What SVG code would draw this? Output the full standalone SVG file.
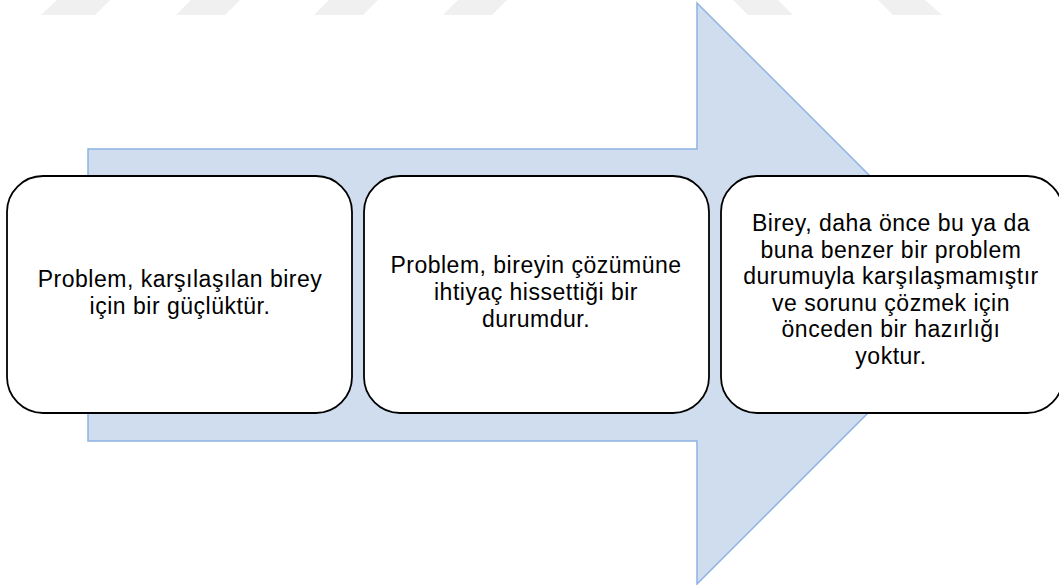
<svg xmlns="http://www.w3.org/2000/svg" width="1059" height="585" viewBox="0 0 1059 585">
  <style>
    .wm { fill: #f0f0f0; }
    .arrow { fill: #d0ddef; stroke: #8db3e2; stroke-width: 1.5; }
    .box { fill: #ffffff; stroke: #000000; stroke-width: 1.8; }
    .lbl { font-family: "Liberation Sans", Arial, sans-serif; font-size: 23px; letter-spacing: 0.5px; fill: #000000; text-anchor: middle; }
  </style>
  <rect x="0" y="0" width="1059" height="585" fill="#ffffff"/>
  <g id="watermark">
    <polygon class="wm" points="57,0 110,0 95,15 41,15"/>
    <polygon class="wm" points="191,0 240,0 225,15 176,15"/>
    <polygon class="wm" points="329,0 378,0 363,15 314,15"/>
    <polygon class="wm" points="458,0 507,0 492,15 443,15"/>
    <polygon class="wm" points="733,0 778,0 793,15 748,15"/>
    <polygon class="wm" points="878,0 925,0 942,15 893,15"/>
  </g>
  <g id="arrow">
    <polygon class="arrow" points="88,149 697,149 697,3 987.5,293.5 697,584 697,441 88,441"/>
  </g>
  <g id="connectors"></g>
  <g id="node1">
    <rect class="box" x="7" y="176" width="345" height="237" rx="36" ry="36"/>
    <text class="lbl" x="180" y="287"><tspan x="180" y="287">Problem, karşılaşılan birey</tspan><tspan x="180" y="314">için bir güçlüktür.</tspan></text>
  </g>
  <g id="node2">
    <rect class="box" x="364" y="176" width="345" height="237" rx="36" ry="36"/>
    <text class="lbl" x="536" y="273"><tspan x="536" y="273">Problem, bireyin çözümüne</tspan><tspan x="536" y="300">ihtiyaç hissettiği bir</tspan><tspan x="536" y="327">durumdur.</tspan></text>
  </g>
  <g id="node3">
    <rect class="box" x="721" y="176" width="342" height="237" rx="36" ry="36"/>
    <text class="lbl" x="891" y="231"><tspan x="891" y="231">Birey, daha önce bu ya da</tspan><tspan x="891" y="257.6">buna benzer bir problem</tspan><tspan x="891" y="284.2">durumuyla karşılaşmamıştır</tspan><tspan x="891" y="310.8">ve sorunu çözmek için</tspan><tspan x="891" y="337.4">önceden bir hazırlığı</tspan><tspan x="891" y="364">yoktur.</tspan></text>
  </g>
</svg>
